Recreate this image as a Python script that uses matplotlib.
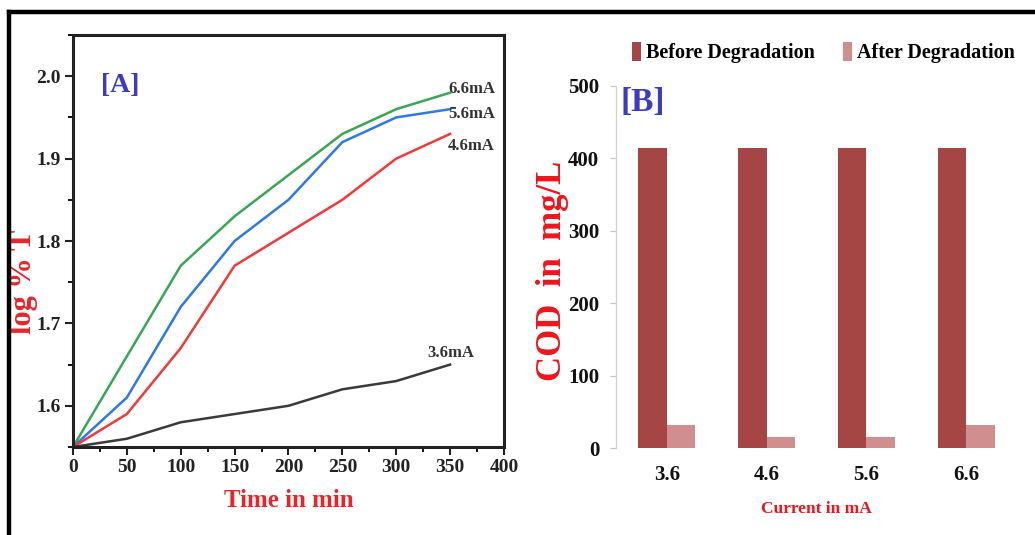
import matplotlib
matplotlib.use("Agg")
import matplotlib.pyplot as plt
from matplotlib.ticker import MultipleLocator
from matplotlib.lines import Line2D

plt.rcParams['font.family'] = ['Liberation Serif', 'DejaVu Serif']

# ---- Panel A data ----
time_min = [0, 50, 100, 150, 200, 250, 300, 350]
logT_66 = [1.55, 1.66, 1.77, 1.83, 1.88, 1.93, 1.96, 1.98]
logT_56 = [1.55, 1.61, 1.72, 1.80, 1.85, 1.92, 1.95, 1.96]
logT_46 = [1.55, 1.59, 1.67, 1.77, 1.81, 1.85, 1.90, 1.93]
logT_36 = [1.55, 1.56, 1.58, 1.59, 1.60, 1.62, 1.63, 1.65]
series_labels = ['6.6mA', '5.6mA', '4.6mA', '3.6mA']

# ---- Panel B data ----
currents = ['3.6', '4.6', '5.6', '6.6']
cod_before = [415, 415, 415, 415]
cod_after = [32, 15, 15, 32]

fig = plt.figure(figsize=(10.35, 5.35), dpi=100)

# outer border (top and left)
fig.add_artist(Line2D([0.0085, 1.0], [0.9775, 0.9775], color='black', lw=3.2,
                      transform=fig.transFigure))
fig.add_artist(Line2D([0.0085, 0.0085], [0.0, 0.9775], color='black', lw=3.2,
                      transform=fig.transFigure))

# ---------------- Panel A ----------------
axA = fig.add_axes([0.0705, 0.1645, 0.4164, 0.770])
colors = ['#3aa655', '#2f78e8', '#f03a3a', '#3a3a3a']
for ys, c in zip([logT_66, logT_56, logT_46, logT_36], colors):
    axA.plot(time_min, ys, color=c, lw=1.8)
axA.set_xlim(0, 400)
axA.set_ylim(1.55, 2.05)
axA.xaxis.set_major_locator(MultipleLocator(50))
axA.xaxis.set_minor_locator(MultipleLocator(25))
axA.set_yticks([1.6, 1.7, 1.8, 1.9, 2.0])
axA.yaxis.set_minor_locator(MultipleLocator(0.05))
axA.tick_params(axis='both', which='major', direction='out', length=6, width=1.5,
                labelsize=14, colors='#222222', pad=3)
axA.tick_params(axis='both', which='minor', direction='out', length=3.5, width=1.3)
for lab in axA.get_xticklabels() + axA.get_yticklabels():
    lab.set_fontweight('bold')
for sp in axA.spines.values():
    sp.set_linewidth(2.2)
    sp.set_color('#222222')
axA.set_xlabel('Time in min', color='#e8262a', fontsize=18, fontweight='bold', labelpad=9)
axA.set_ylabel('log % T', color='#e8262a', fontsize=22, fontweight='bold')
axA.yaxis.set_label_coords(-0.082, 0.40)
axA.text(0.066, 0.877, '[A]', transform=axA.transAxes, color='#3b3bc4',
         fontsize=20, fontweight='bold', va='center', ha='left')
label_pos = [(348, 1.985), (348, 1.954), (348, 1.915), (329, 1.664)]
for (x, y), t in zip(label_pos, series_labels):
    axA.text(x, y, t, fontsize=12, fontweight='bold', color='#333333',
             ha='left', va='center')

# ---------------- Panel B ----------------
axB = fig.add_axes([0.5952, 0.1626, 0.3865, 0.6767])
idx = list(range(len(currents)))
w = 0.285
axB.bar([i - w / 2 for i in idx], cod_before, width=w, color='#a54544',
        label='Before Degradation')
axB.bar([i + w / 2 for i in idx], cod_after, width=w, color='#d08e8e',
        label='After Degradation')
axB.set_xlim(-0.51, 3.5)
axB.set_ylim(0, 500)
axB.set_yticks([0, 100, 200, 300, 400, 500])
axB.set_xticks(idx)
axB.set_xticklabels(currents)
for sp in ['top', 'right', 'bottom']:
    axB.spines[sp].set_visible(False)
axB.spines['left'].set_color('#d0d0d0')
axB.spines['left'].set_linewidth(0.9)
axB.tick_params(axis='y', direction='out', length=4, width=0.9, color='#c8c8c8',
                labelsize=15, pad=8, labelcolor='#111111')
axB.tick_params(axis='x', length=0, labelsize=15, pad=12, labelcolor='#111111')
for lab in axB.get_xticklabels() + axB.get_yticklabels():
    lab.set_fontweight('bold')
axB.set_ylabel('COD  in  mg/L', color='#f0141c', fontsize=25, fontweight='bold')
axB.yaxis.set_label_coords(-0.118, 0.49)
axB.set_xlabel('Current in mA', color='#f0141c', fontsize=12.5, fontweight='bold',
               labelpad=12)
axB.text(0.012, 0.955, '[B]', transform=axB.transAxes, color='#3b3bc4',
         fontsize=24, fontweight='bold', va='center', ha='left')
leg = axB.legend(loc='lower left', bbox_to_anchor=(0.02, 1.04), ncol=2, frameon=False,
                 handlelength=0.45, handleheight=1.1, handletextpad=0.25,
                 columnspacing=1.4, borderaxespad=0,
                 prop={'size': 14.5, 'weight': 'bold'})

fig.savefig('out.png', dpi=100)
